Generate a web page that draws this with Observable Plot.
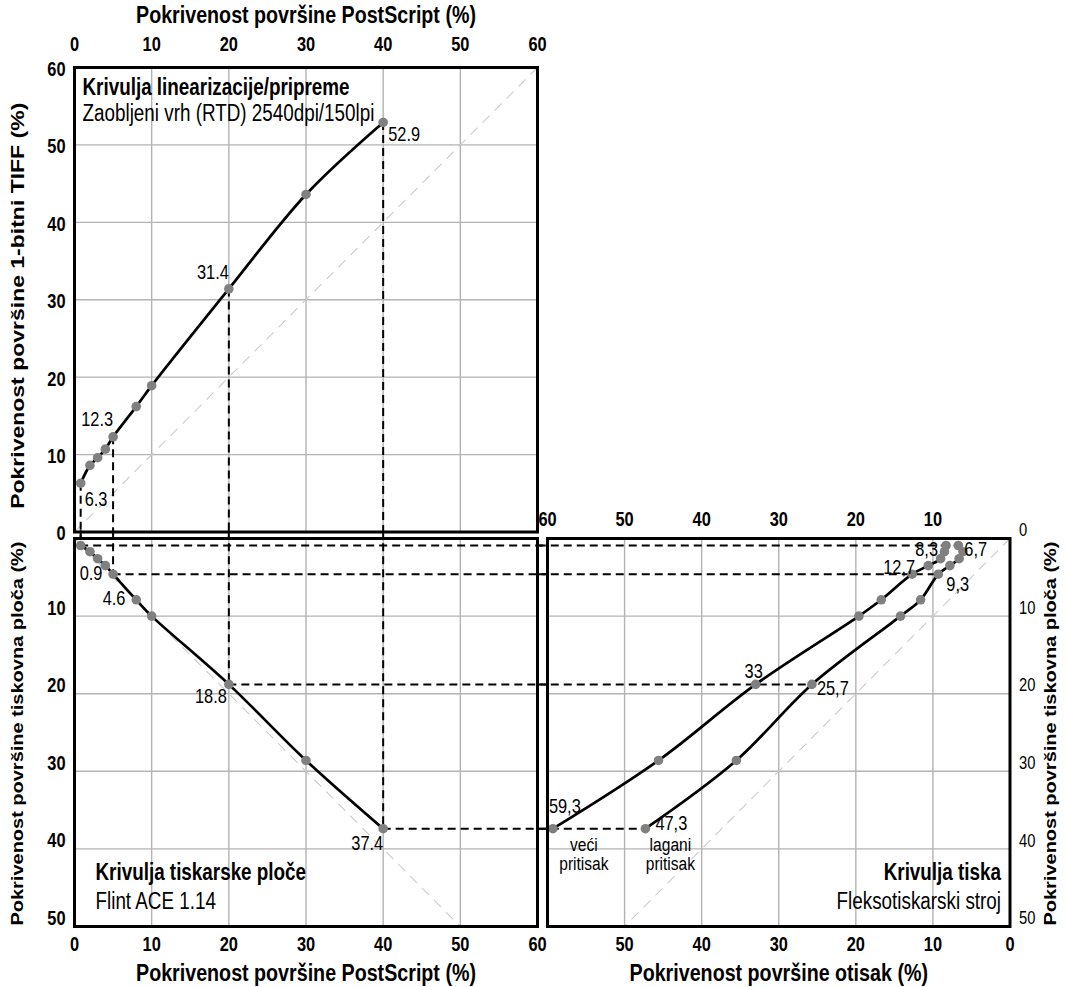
<!DOCTYPE html>
<html><head><meta charset="utf-8">
<script src="https://cdn.jsdelivr.net/npm/d3@7"></script>
<script src="https://cdn.jsdelivr.net/npm/@observablehq/plot@0.6"></script>
<style>
html,body{margin:0;padding:0;background:#fff;}
#chart{position:relative;width:1067px;height:987px;overflow:hidden;background:#fff;}
</style></head><body><div id="chart"></div>
<script>
// ---------- data ----------
const postscript = [0.8, 2, 3, 4, 5, 8, 10, 20, 30, 40];
const tiff       = [6.3, 8.6, 9.6, 10.7, 12.3, 16.2, 18.9, 31.4, 43.6, 52.9];
const plate      = [0.9, 1.7, 2.6, 3.5, 4.6, 7.9, 10, 18.8, 28.6, 37.4];
const printHeavy = [8.3, 8.5, 9.0, 10.6, 12.7, 16.7, 19.6, 33, 45.6, 59.3];
const printLight = [6.7, 6.1, 6.6, 7.8, 9.3, 11.6, 14.2, 25.7, 35.5, 47.3];
const tracedIdx  = [0, 4, 7, 9];
const seriesNames = ["veći pritisak", "lagani pritisak"];
const ticks60 = [0, 10, 20, 30, 40, 50, 60];
const ticks50 = [0, 10, 20, 30, 40, 50];
const axisPostScript = "Pokrivenost površine PostScript (%)";
const axisTiff  = "Pokrivenost površine 1-bitni TIFF (%)";
const axisPlate = "Pokrivenost površine tiskovna ploča (%)";
const axisPrint = "Pokrivenost površine otisak (%)";
const titleA = ["Krivulja linearizacije/pripreme", "Zaobljeni vrh (RTD) 2540dpi/150lpi"];
const titleB = ["Krivulja tiskarske ploče", "Flint ACE 1.14"];
const titleC = ["Krivulja tiska", "Fleksotiskarski stroj"];

// ---------- layout & style ----------
const W = 1067, H = 987;
const L = {fx0: 74, fx1: 537, ay0: 67, ay1: 531.5, by0: 538, by1: 926, cx0: 547, cx1: 1009.5};
const FONT = "'Liberation Sans',Arial,Helvetica,sans-serif";
const SQUEEZE = 0.82;   // the reference type is horizontally condensed
const GRID = {stroke: "#b3b3b3", strokeOpacity: 1, strokeWidth: 1.4};
const DIAG = {stroke: "#cccccc", strokeWidth: 1.1, strokeDasharray: "10,7"};
const GUIDE = {stroke: "#000", strokeWidth: 2, strokeDasharray: "8,5"};
const CURVE = {stroke: "#000", strokeWidth: 2.7, curve: "catmull-rom"};
const DOT = {r: 4.8, fill: "#808080", stroke: "none"};
const FRAME = {stroke: "#000", strokeWidth: 3};
const TICK = {tickSize: 0, fontSize: 20, fontWeight: "bold", label: null};
const LABEL_SIZE = 20;

function base(m) {
  return {
    width: W, height: H,
    marginLeft: m.l, marginRight: W - m.r, marginTop: m.t, marginBottom: H - m.b,
    style: `position:absolute;left:0;top:0;background:transparent;overflow:visible;font-family:${FONT};`
  };
}
function condense(svg) {
  svg.querySelectorAll("text").forEach(t => {
    const tr = t.getAttribute("transform") || "";
    if (tr.includes("rotate(")) t.setAttribute("transform", tr.replace("rotate(", `scale(${SQUEEZE},1) rotate(`));
    else t.setAttribute("transform", `${tr} scale(${SQUEEZE},1)`);
  });
  return svg;
}
function valueLabels(pts, specs, fmt) {
  return specs.map(s => Plot.text([pts[s.i]], {
    x: "x", y: "y", text: d => fmt(d.v), textAnchor: s.anchor, dx: s.dx, dy: s.dy,
    fontSize: LABEL_SIZE, fill: "#000"
  }));
}
const fmtDot = v => v.toFixed(1);
const fmtComma = v => String(v).replace(".", ",");

const labA = [{i: 0, anchor: "start", dx: 4, dy: 16}, {i: 4, anchor: "end", dx: 0, dy: -17},
              {i: 7, anchor: "end", dx: 0, dy: -16}, {i: 9, anchor: "start", dx: 5, dy: 12}];
const labB = [{i: 0, anchor: "start", dx: -1, dy: 28}, {i: 4, anchor: "middle", dx: 1, dy: 24},
              {i: 7, anchor: "end", dx: -2, dy: 12}, {i: 9, anchor: "end", dx: 0, dy: 15}];
const labCH = [{i: 0, anchor: "end", dx: -8, dy: 4}, {i: 4, anchor: "end", dx: 3, dy: -7},
               {i: 7, anchor: "middle", dx: -2, dy: -13}, {i: 9, anchor: "start", dx: -4, dy: -22}];
const labCL = [{i: 0, anchor: "start", dx: 6, dy: 4}, {i: 4, anchor: "start", dx: 8, dy: 10},
               {i: 7, anchor: "start", dx: 5, dy: 4}, {i: 9, anchor: "start", dx: 10, dy: -5}];

const chart = document.getElementById("chart");

// ---------- panel A: linearisation ----------
const ptsA = postscript.map((x, i) => ({x, y: tiff[i], v: tiff[i]}));
const diagA = [{x1: ticks60[0], y1: ticks60[0], x2: ticks60[6], y2: ticks60[6]}];
chart.append(condense(Plot.plot({
  ...base({l: L.fx0, r: L.fx1, t: L.ay0, b: L.ay1}),
  x: {domain: [0, 60]}, y: {domain: [0, 60]},
  marks: [
    Plot.gridX(ticks60.slice(1, -1), GRID),
    Plot.gridY(ticks60.slice(1, -1), GRID),
    Plot.link(diagA, {x1: "x1", y1: "y1", x2: "x2", y2: "y2", ...DIAG}),
    Plot.ruleX(tracedIdx.map(i => ptsA[i]), {x: "x", y1: "y", y2: () => -1, ...GUIDE}),
    Plot.line(ptsA, {x: "x", y: "y", ...CURVE}),
    Plot.dot(ptsA, {x: "x", y: "y", ...DOT}),
    ...valueLabels(ptsA, labA, fmtDot),
    Plot.axisX(ticks60, {anchor: "top", tickPadding: 17, ...TICK}),
    Plot.axisY(ticks60, {anchor: "left", tickPadding: 9, dy: 2, ...TICK}),
    Plot.text([axisPostScript], {frameAnchor: "top", lineAnchor: "middle", dy: -52, fontSize: 24, fontWeight: "bold"}),
    Plot.text([axisTiff], {frameAnchor: "left", textAnchor: "middle", lineAnchor: "middle", rotate: -90, dx: -57, dy: 6, fontSize: 23, fontWeight: "bold"}),
    Plot.text([titleA[0]], {frameAnchor: "top-left", textAnchor: "start", lineAnchor: "bottom", dx: 8, dy: 27, fontSize: 23, fontWeight: "bold"}),
    Plot.text([titleA[1]], {frameAnchor: "top-left", textAnchor: "start", lineAnchor: "bottom", dx: 8, dy: 53, fontSize: 23}),
    Plot.frame(FRAME)
  ]
})));

// ---------- panel B: plate ----------
const ptsB = postscript.map((x, i) => ({x, y: plate[i], v: plate[i]}));
const diagB = [{x1: ticks50[0], y1: ticks50[0], x2: ticks50[5], y2: ticks50[5]}];
chart.append(condense(Plot.plot({
  ...base({l: L.fx0, r: L.fx1, t: L.by0, b: L.by1}),
  x: {domain: [0, 60]}, y: {domain: [0, 50], reverse: true},
  marks: [
    Plot.gridX(ticks60.slice(1, -1), GRID),
    Plot.gridY(ticks50.slice(1, -1), GRID),
    Plot.link(diagB, {x1: "x1", y1: "y1", x2: "x2", y2: "y2", ...DIAG}),
    Plot.ruleX(tracedIdx.map(i => ptsB[i]), {x: "x", y1: () => -1, y2: "y", ...GUIDE}),
    Plot.ruleY(tracedIdx.map(i => ptsB[i]), {y: "y", x1: "x", x2: () => 61.3, ...GUIDE}),
    Plot.line(ptsB, {x: "x", y: "y", ...CURVE}),
    Plot.dot(ptsB, {x: "x", y: "y", ...DOT}),
    ...valueLabels(ptsB, labB, fmtDot),
    Plot.axisX(ticks60, {anchor: "bottom", tickPadding: 10, ...TICK}),
    Plot.axisY(ticks50.slice(1), {anchor: "left", tickPadding: 9, dy: -8, ...TICK}),
    Plot.text([axisPostScript], {frameAnchor: "bottom", lineAnchor: "middle", dy: 47, fontSize: 24, fontWeight: "bold"}),
    Plot.text([axisPlate], {frameAnchor: "left", textAnchor: "middle", lineAnchor: "middle", rotate: -90, dx: -57, dy: 1, fontSize: 20, fontWeight: "bold"}),
    Plot.text([titleB[0]], {frameAnchor: "bottom-left", textAnchor: "start", lineAnchor: "bottom", dx: 21, dy: -47, fontSize: 23, fontWeight: "bold"}),
    Plot.text([titleB[1]], {frameAnchor: "bottom-left", textAnchor: "start", lineAnchor: "bottom", dx: 21, dy: -18, fontSize: 23}),
    Plot.frame(FRAME)
  ]
})));

// ---------- panel C: print ----------
const heavy = printHeavy.map((x, i) => ({x, y: plate[i], v: x}));
const light = printLight.map((x, i) => ({x, y: plate[i], v: x}));
const guidesC = tracedIdx.map(i => ({y: plate[i], x2: Math.min(printHeavy[i], printLight[i])}));
chart.append(condense(Plot.plot({
  ...base({l: L.cx0, r: L.cx1, t: L.by0, b: L.by1}),
  x: {domain: [0, 60], reverse: true}, y: {domain: [0, 50], reverse: true},
  marks: [
    Plot.gridX(ticks60.slice(1, -1), GRID),
    Plot.gridY(ticks50.slice(1, -1), GRID),
    Plot.link(diagB, {x1: "x1", y1: "y1", x2: "x2", y2: "y2", ...DIAG}),
    Plot.ruleY(guidesC, {y: "y", x1: () => 61.2, x2: "x2", ...GUIDE}),
    Plot.line(heavy, {x: "x", y: "y", ...CURVE}),
    Plot.line(light, {x: "x", y: "y", ...CURVE}),
    Plot.dot(heavy, {x: "x", y: "y", ...DOT}),
    Plot.dot(light, {x: "x", y: "y", ...DOT}),
    ...valueLabels(heavy, labCH, fmtComma),
    ...valueLabels(light, labCL, fmtComma),
    Plot.text([heavy[9]], {x: "x", y: "y", text: () => seriesNames[0].replace(" ", "\n"), lineAnchor: "top", lineHeight: 1.0, dx: 31, dy: 9, fontSize: 19}),
    Plot.text([light[9]], {x: "x", y: "y", text: () => seriesNames[1].replace(" ", "\n"), lineAnchor: "top", lineHeight: 1.0, dx: 25, dy: 9, fontSize: 19}),
    Plot.axisX(ticks60.slice(1), {anchor: "top", tickPadding: 13, ...TICK}),
    Plot.axisX(ticks50, {anchor: "bottom", tickPadding: 10, ...TICK}),
    Plot.axisY(ticks50, {anchor: "right", tickPadding: 9, dy: -8, tickSize: 0, fontSize: 18, label: null}),
    Plot.text([axisPrint], {frameAnchor: "bottom", lineAnchor: "middle", dy: 47, fontSize: 24, fontWeight: "bold"}),
    Plot.text([axisPlate], {frameAnchor: "right", textAnchor: "middle", lineAnchor: "middle", rotate: -90, dx: 40.5, dy: 1, fontSize: 20, fontWeight: "bold"}),
    Plot.text([titleC[0]], {frameAnchor: "bottom-right", textAnchor: "end", lineAnchor: "bottom", dx: -9, dy: -47, fontSize: 23, fontWeight: "bold"}),
    Plot.text([titleC[1]], {frameAnchor: "bottom-right", textAnchor: "end", lineAnchor: "bottom", dx: -9, dy: -18, fontSize: 23}),
    Plot.frame(FRAME)
  ]
})));
</script></body></html>
